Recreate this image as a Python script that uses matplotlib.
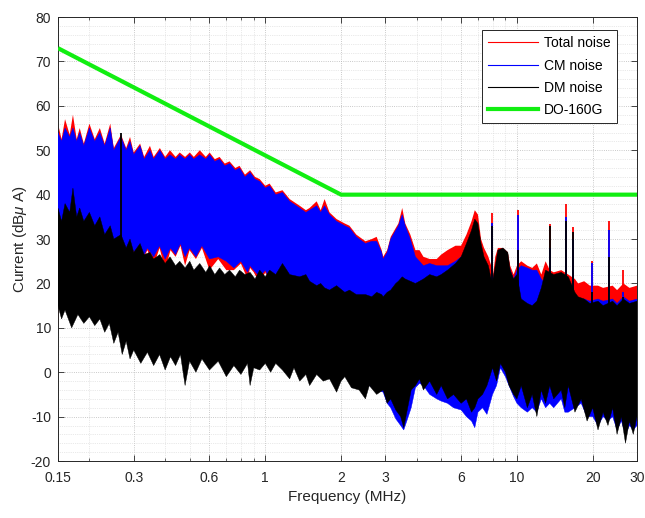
import numpy as np
import matplotlib
matplotlib.use("Agg")
import matplotlib.pyplot as plt
from matplotlib.lines import Line2D
from matplotlib.ticker import FixedLocator, NullFormatter

plt.rcParams['font.family'] = ['Liberation Sans', 'DejaVu Sans']
plt.rcParams['mathtext.fontset'] = 'custom'
plt.rcParams['mathtext.rm'] = 'Liberation Sans'
plt.rcParams['mathtext.it'] = 'Liberation Sans:italic'
plt.rcParams['axes.unicode_minus'] = False

# ---- spectrum envelopes (frequency in MHz, level in dBuA) ----
# upper envelopes share one frequency grid
f_top = [0.150, 0.155, 0.160, 0.167, 0.172, 0.178, 0.183, 0.190, 0.200, 0.210,
         0.220, 0.230, 0.242, 0.250, 0.267, 0.280, 0.290, 0.300, 0.318, 0.330,
         0.348, 0.360, 0.381, 0.400, 0.418, 0.440, 0.457, 0.480, 0.501, 0.520,
         0.549, 0.580, 0.601, 0.630, 0.658, 0.690, 0.721, 0.760, 0.790, 0.830,
         0.870, 0.910, 0.950, 1.00, 1.04, 1.10, 1.17, 1.25, 1.37, 1.45,
         1.50, 1.60, 1.66, 1.72, 1.80, 1.92, 2.07, 2.16, 2.30, 2.50,
         2.65, 2.77, 2.90, 2.94, 3.05, 3.15, 3.30, 3.38, 3.50, 3.60,
         3.77, 3.95, 4.10, 4.25, 4.50, 4.80, 5.00, 5.30, 5.70, 6.00,
         6.30, 6.60, 6.80, 7.00, 7.20, 7.40, 7.70, 7.90, 8.00, 8.20,
         8.40, 8.80, 9.20, 9.40, 9.70, 10.0, 10.4, 11.0, 11.5, 12.0,
         12.5, 13.0, 13.5, 14.0, 15.0, 16.0, 17.0, 17.5, 18.5, 19.5,
         21.0, 22.0, 24.0, 25.0, 26.5, 28.0, 30.0]

total_top = [56, 52.5, 57, 53.5, 58, 52.5, 55, 51.5, 56, 52.5,
             55, 51.5, 56, 50.5, 53.5, 50.5, 53, 49.5, 51.5, 48.5,
             51, 48.5, 50.5, 48.5, 50, 48.5, 49.5, 48.5, 49.5, 48.5,
             50, 48.5, 49.5, 48, 48.5, 47, 47.5, 46, 46.5, 44.5,
             45.5, 44, 43.5, 42, 42.5, 40.5, 41, 39, 37.5, 36.5,
             37, 38.5, 36.5, 39, 36, 34.5, 33.5, 33, 31, 29.5,
             30, 30.5, 27.5, 26, 27.5, 30.5, 32.5, 33.5, 37, 33.5,
             31, 27.5, 27.5, 26, 25.5, 25.5, 26.5, 27.5, 28.5, 28.5,
             31, 34, 36.5, 35.5, 30, 28, 26, 24, 21, 26,
             28, 28, 27, 24, 22, 24, 25, 24, 23.5, 24.5,
             22, 25, 23, 22.5, 23, 22, 21, 20, 20.5, 19.5,
             19.5, 19, 19.5, 18.5, 20, 19, 19.5]

cm_top = [54, 52, 55, 53, 55, 52, 54, 51, 55, 52,
          54, 51, 55, 50, 53, 50, 52, 49, 51, 48,
          50, 48, 50, 48, 49, 48, 49, 48, 49, 48,
          49, 48, 49, 47.5, 48, 46.5, 47, 45.5, 46, 44,
          45, 43.5, 43, 41.5, 42, 40, 40.5, 38.5, 37, 36,
          36.5, 37.5, 36, 37.5, 35.5, 34, 33, 32.5, 30.5, 29,
          29.5, 29.5, 27, 25.5, 27, 30, 32, 33, 35.5, 33,
          30, 26, 25, 24, 24.5, 24, 24, 24, 25, 26,
          26, 29, 31, 30, 25, 23, 22, 21, 20, 23,
          24, 24.5, 24.5, 23, 21, 23, 24, 23.5, 23, 23,
          21, 20, 19, 18, 17.5, 17, 17, 16.5, 16.5, 16,
          16.5, 16, 16.5, 15.5, 17, 16, 16.5]

dm_top = [37, 34, 38, 36, 41.5, 35, 37, 34, 36, 33,
          35, 31, 33, 30, 31, 28, 30, 27, 29, 26.5,
          27, 25.5, 26.5, 24.5, 26, 24, 25, 23.5, 25, 23,
          24.5, 22.5, 24, 22, 23.5, 22, 23, 21.5, 23, 22,
          22.5, 21, 23, 21.5, 23, 22, 24.5, 22, 21.5, 22,
          20.5, 19.5, 20, 19, 18.5, 19.5, 18, 18.5, 17.5, 17.5,
          17, 18, 17.5, 17, 18, 18.5, 20, 20.5, 21.5, 21,
          20.5, 20, 20.5, 21, 22, 21.5, 22, 23, 24.5, 26,
          29, 32, 34.5, 33.5, 29, 26, 24, 21, 20.5, 24,
          27.5, 28, 27, 23, 21, 22, 16.5, 15.5, 15, 16,
          19, 23, 22.5, 22, 22.5, 21.5, 18, 17, 16.5, 15.5,
          16, 15, 16, 15, 16.5, 15.5, 16]

# lower envelopes share a second frequency grid
f_bot = [0.150, 0.155, 0.160, 0.170, 0.180, 0.190, 0.200, 0.210, 0.220, 0.230,
         0.240, 0.250, 0.260, 0.270, 0.280, 0.290, 0.300, 0.320, 0.340, 0.360,
         0.380, 0.400, 0.420, 0.440, 0.460, 0.480, 0.500, 0.530, 0.560, 0.600,
         0.650, 0.700, 0.750, 0.800, 0.850, 0.870, 0.900, 0.950, 1.00, 1.05,
         1.10, 1.17, 1.25, 1.30, 1.37, 1.45, 1.50, 1.60, 1.70, 1.80,
         1.92, 2.00, 2.07, 2.20, 2.36, 2.50, 2.59, 2.77, 2.94, 3.05,
         3.15, 3.30, 3.45, 3.55, 3.65, 3.80, 3.95, 4.10, 4.25, 4.50,
         4.80, 5.00, 5.30, 5.60, 6.00, 6.30, 6.60, 6.80, 7.00, 7.30,
         7.60, 8.00, 8.30, 8.60, 9.00, 9.30, 9.70, 10.0, 10.4, 11.0,
         11.5, 12.0, 12.5, 13.0, 13.5, 14.0, 15.0, 15.5, 16.0, 17.0,
         18.0, 19.0, 20.0, 21.0, 22.0, 23.0, 24.0, 25.0, 26.0, 27.0,
         28.0, 29.0, 30.0]

total_bot = [9, 27, 29, 27, 28, 26, 27, 25, 26, 24,
             26.5, 22, 26.5, 24.5, 25.5, 23, 27, 24.5, 27.5, 24,
             28, 23, 27.5, 26, 28.5, 24, 27.5, 25.5, 28, 23,
             25.5, 23, 23, 24.5, 21, 23.5, 22.5, 20, 22.5, 20,
             20, 18, 16, 14, 12, 10, 9, 7, 6, 4,
             3, 2, 1, 0, -1, -2, -2, -3, -3.5, -6,
             -7, -9.5, -11, -12, -10, -7, -2.5, -1.5, -2, -4,
             -5, -5.5, -6, -7, -7.5, -9, -10, -11.5, -8, -7,
             -8.5, -4, -2, 2, 0, -2, -4.5, -6, -7, -8,
             -7, -8, -5, -7, -6, -7, -5, -8, -8, -7,
             -6, -9, -9, -11, -9, -10, -9, -12, -10, -13,
             -11, -12, -11]

cm_bot = [30, 28, 31, 29, 30, 28, 29, 27, 28, 26,
          27, 24.5, 27, 25, 26, 25, 27.5, 25, 28, 26,
          28.5, 25.5, 28, 26.5, 29, 26, 28, 26, 28.5, 25.5,
          26, 25, 23.5, 25, 22.5, 24, 23, 21.5, 23, 20.5,
          19, 17, 15, 13, 11, 9, 8, 6, 5, 3,
          2, 1, 0, -1, -2, -3, -3, -4, -4.5, -7,
          -8, -10.5, -12, -13, -11, -8, -3.5, -2.5, -3, -5,
          -6, -6.5, -7, -8, -8.5, -10, -11, -12.5, -9, -8,
          -9.5, -5, -3, 1, -1, -3, -5.5, -7, -8, -9,
          -8, -9, -6, -8, -7, -8, -6, -9, -9, -8,
          -7, -10, -10, -12, -10, -11, -10, -13, -11, -14,
          -12, -13, -12]

dm_bot = [15, 12, 14, 10, 13, 11, 12.5, 10.5, 12, 9,
          11, 6.5, 9, 4, 7, 3, 5, 2, 4.5, 1.5,
          4, 0.5, 3.5, 1.5, 4, -3, 2.5, 0, 3, 0.5,
          2.5, -1, 1.5, -0.5, 2, -3, 1, 0.5, 2, 0,
          2, 0.5, -1.5, 1, -2, -0.5, -3, -0.5, -2, -1.5,
          -4.5, -2, -1, -3.5, -4, -6, -3, -5, -4, -7,
          -6, -8.5, -10, -12.5, -9, -4, -3, -1.5, -4, -2,
          -5, -3, -6, -5, -7, -6, -9, -8, -6, -5,
          -3, 1, -2, 2, 0, -3, -5, -6, -3, -8,
          -5, -10, -4, -7, -3, -6, -4, -8, -3, -9,
          -6, -11, -8, -13, -9, -12, -8, -14, -10, -16,
          -11, -14, -10]

# isolated narrow-band peaks (NaN = no peak in that trace)
peak_f = [0.267, 7.94, 10.1, 13.5, 15.7, 16.7, 19.9, 23.3, 26.5]
peak_total = [np.nan, 35.8, 36.5, 33.5, 38.0, 32.7, 25.0, 34.0, 23.0]
peak_cm = [np.nan, 33.6, 35.4, 28.0, 35.0, 30.0, 24.5, 32.0, 18.0]
peak_dm = [54.0, 33.0, 27.5, 33.0, 34.0, 31.5, 18.0, 26.0, 17.0]

# DO-160G conducted emission limit
limit_f = [0.15, 2.0, 30.0]
limit_db = [73.0, 40.0, 40.0]

xtick_vals = [0.15, 0.3, 0.6, 1, 2, 3, 6, 10, 20, 30]
xtick_labels = ['0.15', '0.3', '0.6', '1', '2', '3', '6', '10', '20', '30']
xminor_vals = [0.2, 0.4, 0.5, 0.7, 0.8, 0.9, 4, 5, 7, 8, 9]

RED, BLUE, BLACK, GREEN = '#ff0000', '#0000ff', '#000000', '#11ee11'

fig = plt.figure(figsize=(6.45, 5.18), dpi=100)
ax = fig.add_axes([0.0899, 0.110, 0.8977, 0.857])
ax.set_xscale('log')


def band(f_hi, hi, f_lo, lo, color, z, edge):
    xs = np.concatenate([np.asarray(f_hi), np.asarray(f_lo)[::-1]])
    ys = np.concatenate([np.asarray(hi), np.asarray(lo)[::-1]])
    ax.fill(xs, ys, color=color, lw=edge, ec=color, zorder=z)


band(f_top, total_top, f_bot, total_bot, RED, 2, 0.0)
ax.vlines(peak_f, 15, peak_total, colors=RED, lw=1.3, zorder=2)
band(f_top, cm_top, f_bot, cm_bot, BLUE, 3, 0.3)
ax.vlines(peak_f, 15, peak_cm, colors=BLUE, lw=1.3, zorder=3)
band(f_top, dm_top, f_bot, dm_bot, BLACK, 4, 0.3)
ax.vlines(peak_f, 15, peak_dm, colors=BLACK, lw=1.3, zorder=4)

ax.plot(limit_f, limit_db, color=GREEN, lw=3, zorder=5, solid_capstyle='butt')

ax.set_xlim(0.15, 30)
ax.set_ylim(-20, 80)
ax.xaxis.set_major_locator(FixedLocator(xtick_vals))
ax.set_xticklabels(xtick_labels)
ax.xaxis.set_minor_locator(FixedLocator(xminor_vals))
ax.xaxis.set_minor_formatter(NullFormatter())
ax.set_yticks(np.arange(-20, 81, 10))
ax.yaxis.set_minor_locator(FixedLocator(np.arange(-20, 81, 2)))

ax.grid(True, which='major', ls=':', lw=0.6, color='#b8b8b8', zorder=0)
ax.grid(True, which='minor', ls=':', lw=0.5, color='#d4d4d4', zorder=0)
ax.set_axisbelow(True)

ax.tick_params(which='both', direction='in', top=True, right=True,
               colors='#262626', labelsize=10, labelcolor='#262626')
ax.tick_params(which='major', length=4.5, width=0.6)
ax.tick_params(which='minor', length=2.5, width=0.5)
ax.tick_params(axis='y', which='minor', length=0)
ax.tick_params(axis='x', which='major', pad=7)
ax.tick_params(axis='y', which='major', pad=5)
for s in ax.spines.values():
    s.set_color('#262626')
    s.set_linewidth(0.7)

ax.set_xlabel('Frequency (MHz)', fontsize=11, color='#262626', labelpad=4)
ax.set_ylabel('Current (dB$\\mu$ A)', fontsize=11, color='#262626', labelpad=1)

handles = [Line2D([], [], color=RED, lw=0.8),
           Line2D([], [], color=BLUE, lw=0.8),
           Line2D([], [], color=BLACK, lw=0.8),
           Line2D([], [], color=GREEN, lw=3)]
labels = ['Total noise', 'CM noise', 'DM noise', 'DO-160G']
leg = ax.legend(handles, labels, loc='upper right', bbox_to_anchor=(0.965, 0.971),
                borderaxespad=0, fontsize=10, handlelength=3.6, labelspacing=0.6,
                handletextpad=0.4, borderpad=0.45, fancybox=False, framealpha=1)
leg.get_frame().set_edgecolor('#262626')
leg.get_frame().set_linewidth(0.7)
leg.set_zorder(10)

fig.savefig('out.png', dpi=100, facecolor='white')
